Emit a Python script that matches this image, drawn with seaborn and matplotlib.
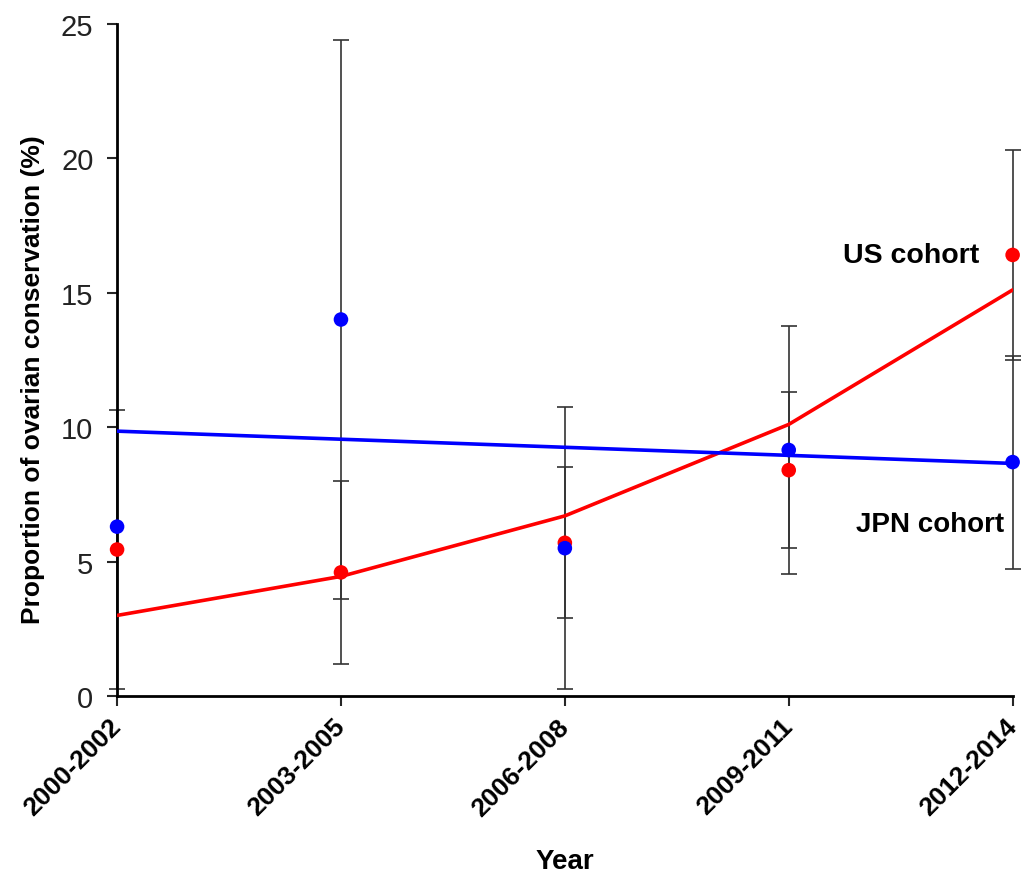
import numpy as np
import pandas as pd
import matplotlib
matplotlib.use('Agg')
import matplotlib.pyplot as plt
import seaborn as sns

# values
periods = ['2000-2002', '2003-2005', '2006-2008', '2009-2011', '2012-2014']
us_rate = [5.45, 4.6, 5.7, 8.4, 16.4]
us_err = [5.2, 3.4, 2.8, 2.9, 3.9]
us_fit = [3.0, 4.45, 6.7, 10.1, 15.1]
jpn_rate = [6.3, 14.0, 5.5, 9.15, 8.7]
jpn_err = [np.nan, 10.4, 5.24, 4.6, 3.96]
jpn_fit = [9.85, 9.55, 9.25, 8.95, 8.65]

sns.set_style('ticks')
plt.rcParams['font.family'] = ['Liberation Sans', 'DejaVu Sans']

df = pd.DataFrame({'period': periods, 'pos': np.arange(len(periods)),
                   'us': us_rate, 'us_err': us_err, 'us_fit': us_fit,
                   'jpn': jpn_rate, 'jpn_err': jpn_err, 'jpn_fit': jpn_fit})

fig = plt.figure(figsize=(10.27, 8.78), dpi=100)
ax = fig.add_axes([0.114, 0.206, 0.872, 0.766])

# error bars
for col, err in [('us', 'us_err'), ('jpn', 'jpn_err')]:
    ax.errorbar(df['pos'], df[col], yerr=df[err], fmt='none', ecolor='#333333',
                elinewidth=1.2, capsize=6, capthick=1.2, zorder=2, clip_on=False)

# fitted trends
sns.lineplot(x='pos', y='us_fit', data=df, color='#ff0000', linewidth=2.6, ax=ax, zorder=3)
sns.lineplot(x='pos', y='jpn_fit', data=df, color='#0000ff', linewidth=2.6, ax=ax, zorder=3)

# observed proportions
sns.scatterplot(x='pos', y='us', data=df, color='#ff0000', s=110, edgecolor='none',
                ax=ax, zorder=4, clip_on=False)
sns.scatterplot(x='pos', y='jpn', data=df, color='#0000ff', s=110, edgecolor='none',
                ax=ax, zorder=5, clip_on=False)

ax.text(3.853, 16.4, 'US cohort', ha='right', va='center', fontsize=20.5,
        fontweight='bold', color='black')
ax.text(3.96, 6.4, 'JPN cohort', ha='right', va='center', fontsize=20,
        fontweight='bold', color='black')

ax.set_xlim(0, 4)
ax.set_ylim(0, 25)
ax.set_yticks([0, 5, 10, 15, 20, 25])
ax.set_xticks(df['pos'])
ax.set_xticklabels(periods, rotation=45, ha='right', va='center', rotation_mode='anchor',
                   fontsize=19, fontweight='bold', color='black')
ax.tick_params(axis='y', labelsize=21, labelcolor='#222222', length=7, width=1.5, pad=10)
ax.tick_params(axis='x', length=7, width=1.5, pad=12)
ax.set_xlabel('Year', fontsize=20, fontweight='bold', labelpad=20, color='black')
ax.set_ylabel('Proportion of ovarian conservation (%)', fontsize=19, fontweight='bold',
              color='black')
ax.yaxis.set_label_coords(-0.08, 0.472)

sns.despine(ax=ax)
for side in ['left', 'bottom']:
    ax.spines[side].set_linewidth(2)
    ax.spines[side].set_color('black')

fig.savefig('out.png', dpi=100)
